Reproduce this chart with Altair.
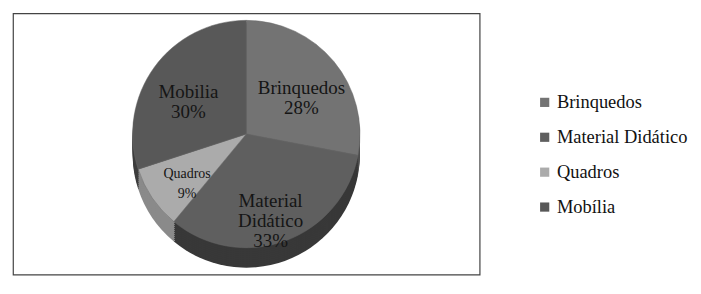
import altair as alt
import pandas as pd

categories = ["Brinquedos", "Material Didático", "Quadros", "Mobília"]
values = [28, 33, 9, 30]
slice_labels = ["Brinquedos\n28%", "Material\nDidático\n33%", "Quadros\n9%", "Mobilia\n30%"]

top_colors = ["#737373", "#5f5f5f", "#ababab", "#585858"]
side_colors = ["#4e4e4e", "#383838", "#8a8a8a", "#3e3e3e"]

SERIF = "Liberation Serif, Times New Roman, serif"

df = pd.DataFrame({
    "categoria": categories,
    "valor": values,
    "rotulo": slice_labels,
    "ordem": list(range(len(categories))),
})

W, H = 468, 262
R = 114
CX = W / 2
CY = 121
DEPTH = 20

base = alt.Chart(df)
theta = alt.Theta("valor:Q", stack=True)
order = alt.Order("ordem:Q")

side_layers = []
for d in range(DEPTH, 0, -2):
    side_layers.append(
        base.mark_arc(outerRadius=R).encode(
            theta=theta,
            order=order,
            x=alt.value(CX),
            y=alt.value(CY + d),
            color=alt.Color("categoria:N",
                            scale=alt.Scale(domain=categories, range=side_colors),
                            legend=None),
        )
    )
sides = alt.layer(*side_layers)

top = base.mark_arc(outerRadius=R, stroke="#6a6a6a", strokeWidth=0.5).encode(
    theta=theta,
    order=order,
    x=alt.value(CX),
    y=alt.value(CY),
    color=alt.Color(
        "categoria:N",
        scale=alt.Scale(domain=categories, range=top_colors),
        sort=categories,
        legend=alt.Legend(
            title=None,
            orient="none",
            legendX=524,
            legendY=80,
            symbolType="square",
            symbolSize=85,
            symbolStrokeWidth=0,
            labelFont=SERIF,
            labelFontSize=18.5,
            labelColor="#111111",
            rowPadding=16,
            labelLimit=300,
            labelOffset=3,
        ),
    ),
)

labels = base.mark_text(
    radius=R * 0.63,
    font=SERIF,
    lineBreak="\n",
    color="#151515",
    lineHeight=20,
).encode(
    theta=theta,
    order=order,
    x=alt.value(CX),
    y=alt.value(CY),
    text="rotulo:N",
    size=alt.condition(alt.datum.categoria == "Quadros", alt.value(14), alt.value(19)),
)

chart = alt.layer(sides, alt.layer(top, labels)).resolve_scale(
    color="independent"
).properties(
    width=W, height=H, background="white"
).configure_view(stroke="#444444", strokeWidth=1.2)

chart.save("out.html", embed_options={"renderer": "svg", "actions": False})
